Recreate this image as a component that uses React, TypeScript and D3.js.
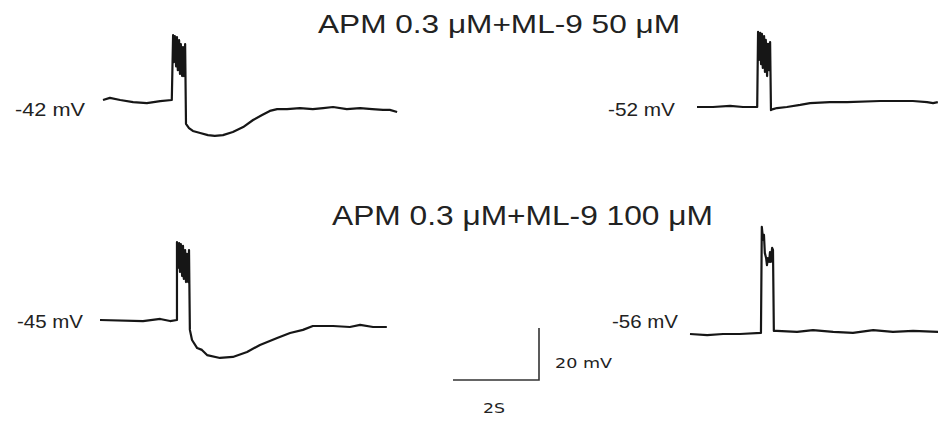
import React from "react";
import * as d3 from "d3";

// ---- data (time in s, membrane potential in mV) ----
const titles = ["APM 0.3 μM+ML-9 50 μM", "APM 0.3 μM+ML-9 100 μM"];
const restLabels = ["-42 mV", "-52 mV", "-45 mV", "-56 mV"];
const restPotentials = [-42, -52, -45, -56];

const trace1T = [0, 0.16, 0.4, 0.7, 1.02, 1.33, 1.6, 1.63, 1.65, 1.67, 1.7, 1.72, 1.74, 1.77, 1.79, 1.81, 1.84, 1.86, 1.88, 1.91, 1.93, 2.0, 2.09, 2.26, 2.44, 2.6, 2.79, 3.02, 3.26, 3.49, 3.7, 3.88, 4.05, 4.28, 4.58, 4.88, 5.12, 5.35, 5.67, 5.98, 6.26, 6.51, 6.67, 6.84];
const trace1V = [-42, -41.2, -42, -42.8, -43.2, -42.4, -42, -17.0, -27.4, -17.4, -29.1, -17.8, -30.5, -19.0, -32.0, -20.5, -32.8, -21.7, -32.8, -20.5, -51.2, -52.8, -53.9, -54.7, -55.5, -55.8, -55.5, -54.3, -52.4, -49.7, -47.8, -46.2, -45.5, -45.5, -45.1, -45.5, -45.1, -44.7, -45.5, -45.1, -45.5, -45.8, -45.8, -46.6];

const trace2T = [0, 0.37, 0.77, 1.07, 1.4, 1.42, 1.44, 1.47, 1.49, 1.51, 1.53, 1.56, 1.58, 1.6, 1.63, 1.65, 1.67, 1.7, 1.72, 1.77, 1.86, 2.09, 2.4, 2.63, 3.09, 3.49, 4.26, 5.02, 5.35, 5.49, 5.6];
const trace2V = [-52, -52, -51.6, -52, -52, -23.1, -33.9, -23.5, -35.5, -23.9, -37.0, -24.7, -38.5, -26.2, -40.1, -27.7, -37.8, -27.0, -53.2, -52.8, -52.4, -52, -51.2, -50.5, -50.1, -50.1, -49.7, -49.7, -50.1, -50.5, -50.1];

const trace3T = [0, 1.0, 1.4, 1.63, 1.79, 1.79, 1.81, 1.84, 1.86, 1.88, 1.91, 1.93, 1.95, 1.98, 2.0, 2.02, 2.05, 2.07, 2.09, 2.14, 2.26, 2.37, 2.49, 2.79, 3.09, 3.42, 3.72, 4.12, 4.42, 4.72, 4.95, 5.42, 5.81, 6.05, 6.35, 6.67];
const trace3V = [-45, -45.4, -44.6, -45.4, -45, -15.0, -25.0, -15.4, -26.5, -15.8, -28.1, -16.5, -29.2, -18.1, -30.4, -19.6, -30.4, -18.1, -48.8, -52.7, -55.8, -56.5, -58.5, -59.6, -59.2, -57.3, -54.6, -51.9, -50.0, -48.8, -47.3, -47.3, -47.7, -46.9, -47.7, -47.7];

const trace4T = [0, 0.4, 0.77, 1.16, 1.65, 1.67, 1.7, 1.72, 1.74, 1.77, 1.79, 1.81, 1.84, 1.86, 1.88, 1.91, 1.93, 1.95, 2.02, 2.49, 2.86, 3.33, 3.79, 4.26, 4.72, 5.19, 5.77];
const trace4V = [-56, -56.4, -56, -56, -55.6, -14.8, -19.8, -17.9, -24.8, -26.8, -29.5, -26.8, -28.3, -24.5, -28.3, -22.9, -23.7, -54.8, -54.8, -55.2, -54.5, -55.2, -55.6, -54.5, -55.2, -54.8, -55.2];

const scaleBarSeconds = 2;
const scaleBarMV = 20;
const scaleBarLabels = ["2S", "20 mV"];

// ---- layout ----
const W = 938;
const H = 421;
const PX_PER_S = 43;
const PX_PER_MV = 2.6;

const panels = [
  { t: trace1T, v: trace1V, x0: 103, y0: 100, lx: 15, ly: 116, lw: 70 },
  { t: trace2T, v: trace2V, x0: 697, y0: 107, lx: 608, ly: 116, lw: 67 },
  { t: trace3T, v: trace3V, x0: 100, y0: 320, lx: 17, ly: 328, lw: 66 },
  { t: trace4T, v: trace4V, x0: 690, y0: 334, lx: 612, ly: 328, lw: 66 },
];

const TRACE = "#161616";
const TEXT = "#222";

export default function App() {
  return (
    <svg
      width={W}
      height={H}
      style={{ position: "absolute", left: 0, top: 0, background: "#fff" }}
      fontFamily="'Liberation Sans', Arial, sans-serif"
    >
      <rect width={W} height={H} fill="#fff" />
      <text x={318} y={33} fontSize={26} fill={TEXT} textLength={362} lengthAdjust="spacingAndGlyphs">
        {titles[0]}
      </text>
      <text x={332} y={225} fontSize={27} fill={TEXT} textLength={381} lengthAdjust="spacingAndGlyphs">
        {titles[1]}
      </text>
      {panels.map((p, i) => {
        const rest = restPotentials[i];
        const x = d3.scaleLinear().domain([0, 1]).range([p.x0, p.x0 + PX_PER_S]);
        const y = d3.scaleLinear().domain([rest, rest + 1]).range([p.y0, p.y0 - PX_PER_MV]);
        const line = d3
          .line<number>()
          .x((_, k) => x(p.t[k]))
          .y((d) => y(d));
        return (
          <g key={i}>
            <path d={line(p.v) || ""} fill="none" stroke={TRACE} strokeWidth={2.2} strokeLinejoin="round" />
            <text x={p.lx} y={p.ly} fontSize={18} fill={TEXT} textLength={p.lw} lengthAdjust="spacingAndGlyphs">
              {restLabels[i]}
            </text>
          </g>
        );
      })}
      {(() => {
        const cx = 539;
        const cy = 380;
        const sx = d3.scaleLinear().domain([0, scaleBarSeconds]).range([cx - scaleBarSeconds * PX_PER_S, cx]);
        const sy = d3.scaleLinear().domain([0, scaleBarMV]).range([cy, cy - scaleBarMV * PX_PER_MV]);
        const pts: [number, number][] = [
          [sx(0), sy(0)],
          [sx(scaleBarSeconds), sy(0)],
          [sx(scaleBarSeconds), sy(scaleBarMV)],
        ];
        return (
          <g>
            <path d={d3.line()(pts) || ""} fill="none" stroke="#333" strokeWidth={1.6} />
            <text x={483} y={413} fontSize={14} fill={TEXT} fontFamily="'DejaVu Sans', Verdana, sans-serif" textLength={22} lengthAdjust="spacingAndGlyphs">
              {scaleBarLabels[0]}
            </text>
            <text x={555} y={368} fontSize={14} fill={TEXT} fontFamily="'DejaVu Sans', Verdana, sans-serif" textLength={57} lengthAdjust="spacingAndGlyphs">
              {scaleBarLabels[1]}
            </text>
          </g>
        );
      })()}
    </svg>
  );
}
